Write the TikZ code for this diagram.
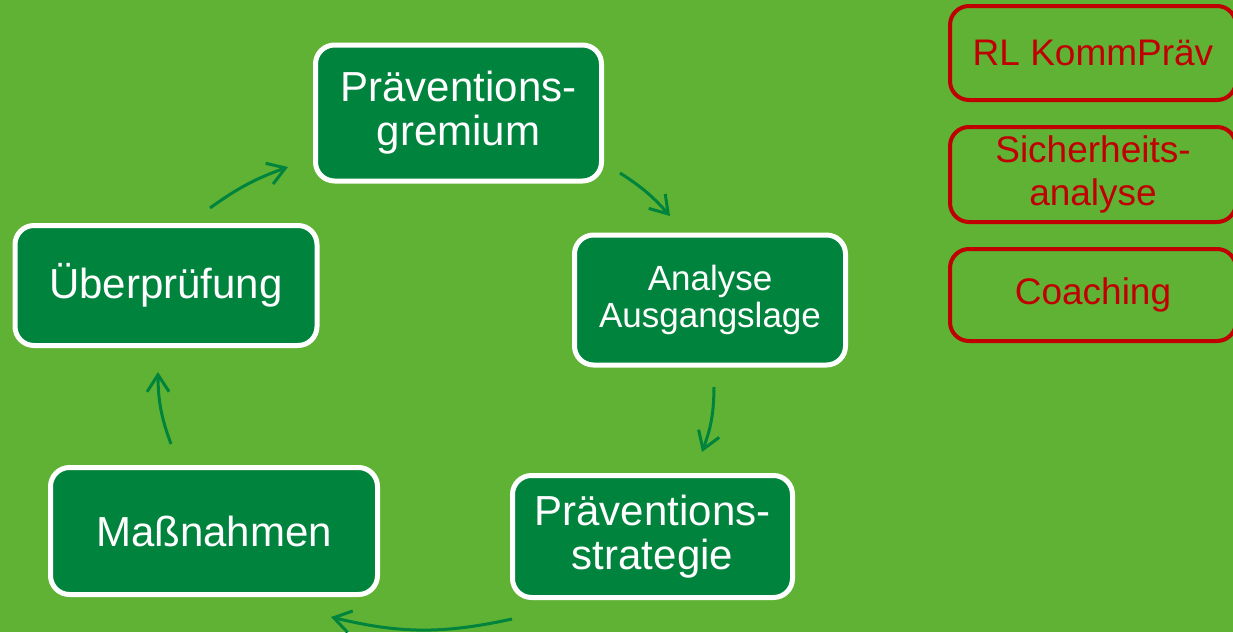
\documentclass[tikz,border=0pt]{standalone}
\usepackage{fontspec}
\setmainfont{Liberation Sans}
\usetikzlibrary{arrows.meta}
\definecolor{bggreen}{HTML}{5FB233}
\definecolor{boxgreen}{HTML}{00843D}
\definecolor{darkred}{HTML}{C00000}
\tikzset{
  stepbox/.style={draw=white, line width=5pt, fill=boxgreen, rounded corners=19pt,
    text=white, align=center, inner sep=0pt, font=\fontsize{42}{44}\selectfont},
  sidebox/.style={draw=darkred, line width=4pt, rounded corners=19pt,
    text=darkred, align=center, inner sep=0pt, font=\fontsize{37}{43}\selectfont,
    minimum width=286pt},
  cyc/.style={draw=boxgreen, line width=3pt, -{Straight Barb[length=17pt,width=22pt]}}
}
\begin{document}
\begin{tikzpicture}[x=1pt,y=1pt]
\fill[bggreen] (0,0) rectangle (1233,-632);
\useasboundingbox (0,0) rectangle (1233,-632);

\node[stepbox, minimum width=286pt, minimum height=136pt] (g) at (458.5,-113) {Präventions-\\gremium};
\node[stepbox, minimum width=271pt, minimum height=130pt, font=\fontsize{35}{37}\selectfont] (a) at (710,-300) {Analyse\\Ausgangslage};
\node[stepbox, minimum width=280pt, minimum height=122pt] (s) at (652.5,-536.5) {Präventions-\\strategie};
\node[stepbox, minimum width=327pt, minimum height=127pt] (m) at (214,-531) {Maßnahmen};
\node[stepbox, minimum width=302pt, minimum height=120pt] (u) at (166,-285.5) {Überprüfung};

\node[sidebox, minimum height=94pt] (rl) at (1093,-53) {RL KommPräv};
\node[sidebox, minimum height=95pt] (sa) at (1093,-174.5) {Sicherheits-\\analyse};
\node[sidebox, minimum height=92pt] (co) at (1093,-295) {Coaching};

\coordinate (c1s) at (620,-173); \coordinate (c1e) at (670,-216);
\coordinate (c2s) at (714,-387); \coordinate (c2e) at (702,-452);
\coordinate (c3s) at (512,-619); \coordinate (c3e) at (331,-617);
\coordinate (c4s) at (171,-444); \coordinate (c4e) at (158,-372);
\coordinate (c5s) at (210,-208); \coordinate (c5e) at (288,-167);

\draw[cyc] (c1s) to[bend left=8] (c1e);
\draw[cyc] (c2s) to[bend left=10] (c2e);
\draw[cyc] (c3s) to[bend left=13] (c3e);
\draw[cyc] (c4s) to[bend left=10] (c4e);
\draw[cyc] (c5s) to[bend left=8] (c5e);
\end{tikzpicture}
\end{document}
